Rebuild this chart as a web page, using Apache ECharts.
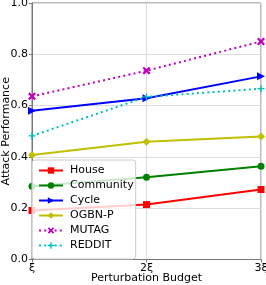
<!DOCTYPE html>
<html><head><meta charset="utf-8">
<script src="https://cdn.jsdelivr.net/npm/echarts@6/dist/echarts.min.js"></script>
<style>html,body{margin:0;padding:0;background:#fff}#c{width:266px;height:285px}</style>
</head><body><div id="c"></div>
<script>
const categories = ['ξ', '2ξ', '3ξ'];
const yTicks = [0.0, 0.2, 0.4, 0.6, 0.8, 1.0];
const house = [0.191, 0.214, 0.273];
const community = [0.286, 0.321, 0.364];
const cycle = [0.580, 0.629, 0.714];
const ogbn = [0.407, 0.459, 0.480];
const mutag = [0.636, 0.736, 0.850];
const reddit = [0.482, 0.634, 0.666];

const plus = 'path://M4,0H6V4H10V6H6V10H4V6H0V4H4Z';
const xMark = 'path://M2,0L5,3L8,0L10,2L7,5L10,8L8,10L5,7L2,10L0,8L3,5L0,2Z';
const F = 'DejaVu Sans';
function s(name, data, color, symbol, dotted, size, rot) {
  return {
    name, type: 'line', data, color, symbol, symbolSize: size || 7,
    symbolRotate: rot || 0, showAllSymbol: true,
    lineStyle: { width: 2, color, type: dotted ? [2, 3.2] : 'solid' },
    itemStyle: { color, borderWidth: 0 }, clip: true
  };
}
const chart = echarts.init(document.getElementById('c'), null, { renderer: 'canvas' });
chart.setOption({
  animation: false,
  grid: { left: 32, right: 5, top: 3, bottom: 25.5, containLabel: false, outerBoundsMode: 'none',
    show: true, borderColor: '#777', borderWidth: 1 },
  xAxis: {
    type: 'category', data: categories, boundaryGap: false,
    name: 'Perturbation Budget', nameLocation: 'middle', nameGap: 13, nameMoveOverlap: false,
    nameTextStyle: { fontFamily: F, fontSize: 11, color: '#000' },
    axisLine: { lineStyle: { color: '#777' } },
    axisTick: { show: true, length: 3, lineStyle: { color: '#777' } },
    axisLabel: { fontFamily: F, fontSize: 11, color: '#000', margin: 3, showMaxLabel: true, showMinLabel: true },
    splitLine: { show: true, lineStyle: { color: '#ddd', width: 1 } }
  },
  yAxis: {
    type: 'value', min: 0, max: 1, interval: 0.2,
    name: 'Attack Performance', nameLocation: 'middle', nameGap: 20, nameMoveOverlap: false,
    nameTextStyle: { fontFamily: F, fontSize: 11, color: '#000' },
    axisLine: { show: true, lineStyle: { color: '#777' } },
    axisTick: { show: true, length: 3, lineStyle: { color: '#777' } },
    axisLabel: { fontFamily: F, fontSize: 11, color: '#000', margin: 4,
      formatter: v => yTicks.find(t => Math.abs(t - v) < 1e-9).toFixed(1) },
    splitLine: { show: true, lineStyle: { color: '#ddd', width: 1 } }
  },
  legend: {
    orient: 'vertical', left: 32, top: 160, itemGap: 2,
    itemWidth: 24, itemHeight: 8,
    padding: [4, 2, 7, 6],
    backgroundColor: 'rgba(255,255,255,0.8)', borderColor: '#ccc', borderWidth: 1, borderRadius: 3,
    textStyle: { fontFamily: F, fontSize: 11, color: '#000', padding: [0, 0, 0, 2], lineHeight: 13 },
    data: ['House', 'Community', 'Cycle', 'OGBN-P', 'MUTAG', 'REDDIT']
  },
  series: [
    s('House', house, '#ff0000', 'rect', false, 7),
    s('Community', community, '#008000', 'circle', false, 7),
    s('Cycle', cycle, '#0000ff', 'triangle', false, 8, -90),
    s('OGBN-P', ogbn, '#bfbf00', 'diamond', false, 8),
    s('MUTAG', mutag, '#bf00bf', xMark, true, 8),
    s('REDDIT', reddit, '#00bfbf', plus, true, 7)
  ]
});
</script></body></html>
